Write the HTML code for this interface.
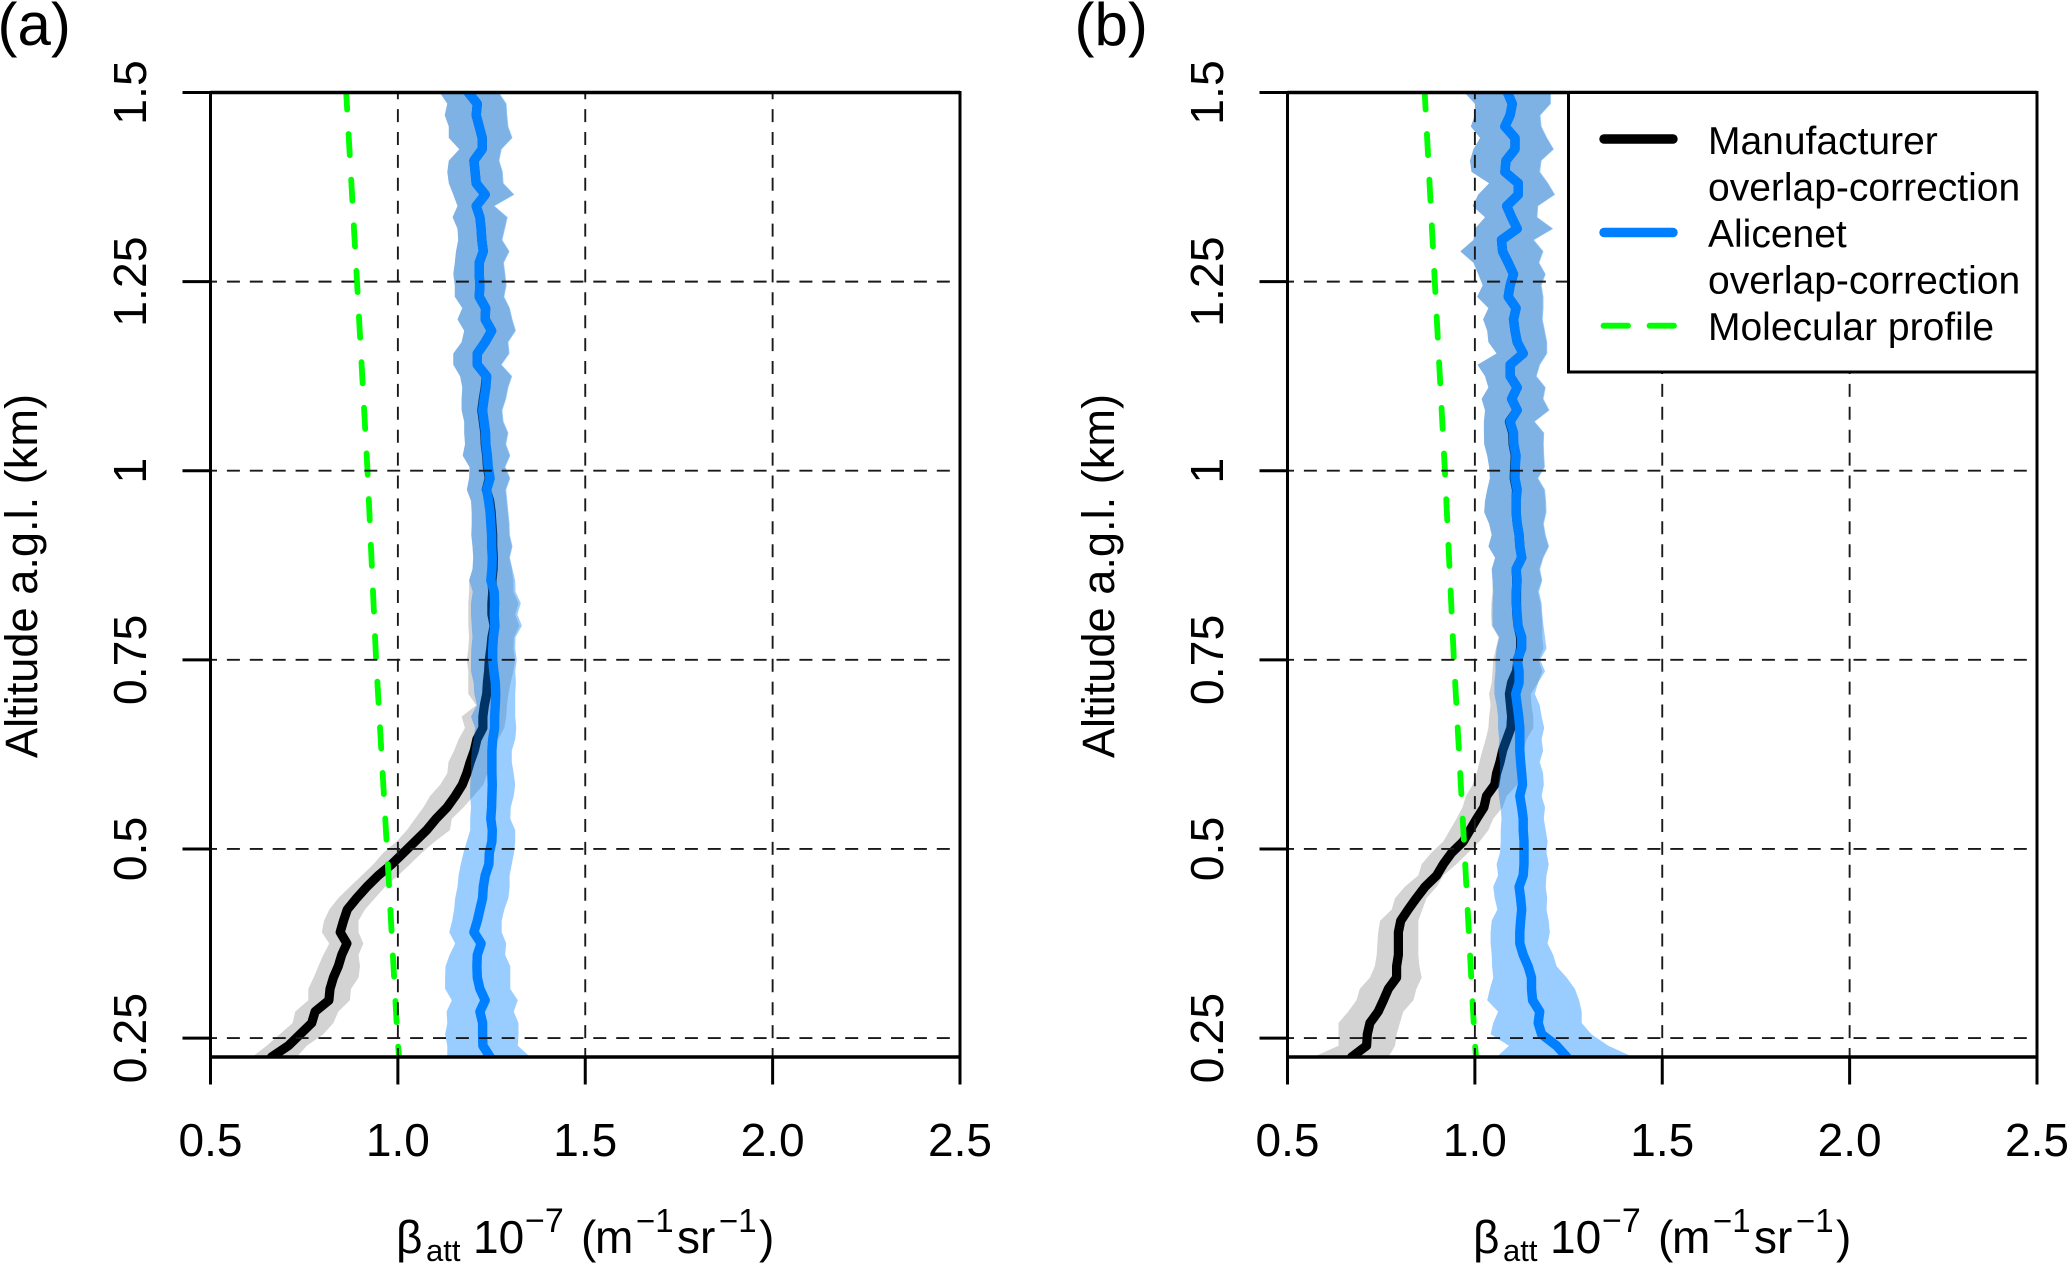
<!DOCTYPE html>
<html lang="en">
<head>
<meta charset="utf-8">
<title>Attenuated backscatter profiles</title>
<style>
html,body{margin:0;padding:0;background:#fff;}
svg{display:block;font-family:"Liberation Sans",sans-serif;}
</style>
</head>
<body>
<svg id="chart" xmlns="http://www.w3.org/2000/svg" width="2067" height="1265" viewBox="0 0 2067 1265">
<rect x="0" y="0" width="2067" height="1265" fill="#ffffff"/>
</svg>
<script>
const altitudeKm = [1.5,1.485,1.47,1.455,1.44,1.425,1.41,1.395,1.38,1.365,1.35,1.335,1.32,1.305,1.29,1.275,1.26,1.245,1.23,1.215,1.2,1.185,1.17,1.155,1.14,1.125,1.11,1.095,1.08,1.065,1.05,1.035,1.02,1.005,0.99,0.975,0.96,0.945,0.93,0.915,0.9,0.885,0.87,0.855,0.84,0.825,0.81,0.795,0.78,0.765,0.75,0.735,0.72,0.705,0.69,0.675,0.66,0.645,0.63,0.615,0.6,0.585,0.57,0.555,0.54,0.525,0.51,0.495,0.48,0.465,0.45,0.435,0.42,0.405,0.39,0.375,0.36,0.345,0.33,0.315,0.3,0.285,0.27,0.255,0.24,0.225];

const panelABlueMean = [1.188,1.212,1.209,1.217,1.225,1.225,1.203,1.206,1.209,1.233,1.209,1.219,1.222,1.224,1.228,1.217,1.217,1.219,1.217,1.234,1.233,1.250,1.233,1.212,1.212,1.237,
1.235,1.230,1.226,1.230,1.234,1.235,1.239,1.241,1.246,1.237,1.242,1.246,1.248,1.250,1.250,1.252,1.251,1.248,1.257,1.258,1.257,1.259,1.255,1.253,1.253,1.256,
1.260,1.261,1.260,1.258,1.258,1.253,1.251,1.251,1.251,1.252,1.251,1.250,1.248,1.252,1.251,1.244,1.243,1.233,1.228,1.226,1.219,1.212,1.203,1.222,1.212,1.211,1.212,1.219,1.233,1.219,1.226,1.226,1.227,1.246];
const panelABlueLow = [1.112,1.132,1.125,1.136,1.136,1.164,1.136,1.132,1.136,1.148,1.159,1.146,1.159,1.161,1.155,1.152,1.148,1.152,1.152,1.172,1.159,1.177,1.170,1.148,1.148,1.166,
1.172,1.170,1.170,1.177,1.177,1.179,1.173,1.191,1.190,1.184,1.195,1.197,1.197,1.196,1.199,1.201,1.199,1.190,1.200,1.195,1.195,1.197,1.199,1.196,1.195,1.195,
1.202,1.204,1.211,1.195,1.206,1.202,1.197,1.195,1.195,1.193,1.193,1.195,1.193,1.193,1.184,1.175,1.168,1.162,1.159,1.153,1.150,1.145,1.137,1.153,1.138,1.127,1.126,1.126,1.144,1.130,1.132,1.126,1.132,1.132];
const panelABlueHigh = [1.270,1.290,1.292,1.295,1.306,1.277,1.271,1.280,1.282,1.311,1.258,1.293,1.286,1.279,1.298,1.283,1.287,1.290,1.284,1.299,1.306,1.315,1.295,1.298,1.277,1.305,
1.295,1.289,1.279,1.282,1.295,1.289,1.300,1.287,1.300,1.289,1.292,1.295,1.298,1.299,1.306,1.299,1.306,1.313,1.314,1.328,1.319,1.331,1.314,1.313,1.317,1.313,
1.315,1.313,1.313,1.313,1.316,1.313,1.304,1.304,1.309,1.313,1.309,1.301,1.300,1.313,1.313,1.310,1.304,1.298,1.298,1.295,1.284,1.277,1.277,1.289,1.286,1.300,1.300,1.300,1.320,1.309,1.322,1.322,1.320,1.353];

const panelABlackMean = [1.188,1.212,1.209,1.217,1.225,1.225,1.203,1.206,1.209,1.233,1.209,1.219,1.222,1.224,1.228,1.217,1.217,1.219,1.217,1.234,1.233,1.250,1.233,1.212,1.212,1.236,
1.233,1.228,1.224,1.228,1.232,1.233,1.237,1.239,1.244,1.236,1.245,1.249,1.251,1.253,1.253,1.255,1.254,1.251,1.253,1.251,1.251,1.257,1.251,1.248,1.244,1.242,
1.239,1.237,1.231,1.227,1.227,1.211,1.204,1.193,1.184,1.172,1.153,1.131,1.102,1.077,1.046,1.015,0.984,0.948,0.917,0.890,0.865,0.855,0.846,0.864,0.850,0.841,0.828,0.819,0.816,0.779,0.770,0.739,0.708,0.663];
const panelABlackLow = [1.112,1.132,1.125,1.136,1.136,1.164,1.136,1.132,1.136,1.148,1.159,1.146,1.159,1.161,1.155,1.152,1.148,1.152,1.152,1.172,1.159,1.177,1.170,1.148,1.148,1.166,
1.172,1.170,1.170,1.177,1.177,1.179,1.173,1.191,1.190,1.184,1.195,1.197,1.197,1.196,1.199,1.201,1.199,1.190,1.190,1.188,1.188,1.188,1.190,1.188,1.184,1.188,
1.188,1.188,1.209,1.170,1.179,1.162,1.150,1.135,1.132,1.113,1.086,1.068,1.046,1.024,0.997,0.961,0.935,0.904,0.872,0.841,0.817,0.803,0.797,0.817,0.801,0.788,0.775,0.761,0.761,0.726,0.719,0.685,0.650,0.611];
const panelABlackHigh = [1.268,1.288,1.290,1.293,1.304,1.275,1.269,1.278,1.280,1.309,1.256,1.291,1.284,1.277,1.296,1.281,1.285,1.288,1.282,1.297,1.304,1.313,1.293,1.296,1.275,1.303,
1.293,1.287,1.277,1.280,1.293,1.287,1.298,1.285,1.298,1.287,1.290,1.293,1.296,1.297,1.304,1.297,1.304,1.308,1.308,1.322,1.313,1.324,1.310,1.308,1.313,1.308,
1.301,1.295,1.291,1.289,1.284,1.268,1.255,1.242,1.239,1.228,1.202,1.175,1.144,1.139,1.099,1.064,1.033,1.001,0.966,0.939,0.912,0.895,0.895,0.908,0.895,0.899,0.895,0.875,0.872,0.841,0.828,0.801,0.757,0.730];

const panelBBlueMean = [1.087,1.100,1.094,1.080,1.107,1.107,1.083,1.080,1.116,1.116,1.085,1.098,1.113,1.071,1.074,1.089,1.103,1.094,1.089,1.110,1.103,1.107,1.113,1.129,1.094,1.094,
1.113,1.098,1.113,1.094,1.103,1.104,1.110,1.108,1.107,1.113,1.110,1.110,1.113,1.118,1.120,1.125,1.110,1.113,1.110,1.110,1.113,1.115,1.125,1.125,1.113,1.118,
1.118,1.109,1.113,1.117,1.120,1.120,1.120,1.122,1.125,1.127,1.120,1.125,1.129,1.129,1.131,1.131,1.131,1.129,1.118,1.122,1.125,1.122,1.120,1.120,1.129,1.142,1.151,1.151,1.154,1.173,1.169,1.178,1.218,1.245];
const panelBBlueLow = [0.972,1.000,1.000,0.989,1.014,0.996,0.987,0.991,1.038,1.009,0.994,1.027,1.000,0.996,0.961,0.996,1.009,1.021,1.006,1.036,1.022,1.033,1.036,1.058,1.007,1.027,
1.036,1.018,1.027,1.024,1.024,1.025,1.033,1.038,1.040,1.033,1.027,1.025,1.038,1.045,1.036,1.054,1.045,1.047,1.049,1.047,1.047,1.047,1.065,1.058,1.055,1.055,
1.052,1.052,1.058,1.062,1.062,1.065,1.063,1.067,1.067,1.062,1.064,1.069,1.071,1.069,1.069,1.067,1.058,1.062,1.049,1.053,1.060,1.045,1.042,1.042,1.045,1.046,1.049,1.040,1.033,1.062,1.049,1.042,1.091,1.058];
const panelBBlueHigh = [1.203,1.203,1.175,1.178,1.193,1.211,1.178,1.174,1.196,1.214,1.169,1.167,1.209,1.158,1.183,1.172,1.189,1.178,1.183,1.183,1.181,1.187,1.193,1.193,1.174,1.165,
1.189,1.183,1.199,1.160,1.185,1.184,1.185,1.187,1.169,1.187,1.190,1.191,1.184,1.189,1.198,1.183,1.174,1.180,1.171,1.178,1.180,1.183,1.187,1.191,1.174,1.187,
1.169,1.160,1.173,1.178,1.185,1.178,1.182,1.173,1.182,1.184,1.178,1.187,1.184,1.189,1.194,1.191,1.197,1.191,1.189,1.193,1.191,1.197,1.200,1.194,1.209,1.218,1.245,1.267,1.278,1.285,1.285,1.311,1.356,1.422];

const panelBBlackMean = [1.087,1.100,1.094,1.080,1.107,1.107,1.083,1.080,1.116,1.116,1.085,1.098,1.113,1.071,1.074,1.089,1.103,1.094,1.089,1.110,1.103,1.107,1.113,1.129,1.094,1.094,
1.113,1.098,1.113,1.092,1.101,1.102,1.108,1.106,1.105,1.111,1.110,1.110,1.113,1.118,1.120,1.125,1.110,1.112,1.111,1.111,1.112,1.115,1.122,1.122,1.115,1.111,
1.098,1.092,1.095,1.098,1.096,1.085,1.074,1.067,1.058,1.053,1.031,1.024,1.005,0.987,0.969,0.938,0.916,0.898,0.867,0.844,0.822,0.802,0.796,0.796,0.796,0.791,0.791,0.769,0.756,0.742,0.720,0.713,0.711,0.671];
const panelBBlackLow = [0.972,1.000,1.000,0.989,1.014,0.996,0.987,0.991,1.038,1.009,0.994,1.027,1.000,0.996,0.961,0.996,1.009,1.021,1.006,1.036,1.022,1.033,1.036,1.058,1.007,1.027,
1.036,1.018,1.027,1.024,1.024,1.025,1.033,1.038,1.040,1.033,1.027,1.025,1.038,1.045,1.036,1.054,1.045,1.047,1.047,1.044,1.043,1.045,1.063,1.056,1.049,1.047,
1.045,1.038,1.042,1.038,1.036,1.029,1.020,1.012,1.005,0.994,0.976,0.967,0.951,0.933,0.916,0.884,0.858,0.849,0.813,0.787,0.778,0.747,0.742,0.740,0.738,0.733,0.720,0.693,0.684,0.662,0.636,0.636,0.636,0.569];
const panelBBlackHigh = [1.201,1.201,1.173,1.176,1.191,1.209,1.176,1.172,1.194,1.212,1.167,1.165,1.207,1.156,1.181,1.170,1.187,1.176,1.181,1.181,1.179,1.185,1.191,1.191,1.172,1.163,
1.187,1.181,1.197,1.158,1.183,1.182,1.183,1.185,1.167,1.185,1.188,1.189,1.182,1.187,1.196,1.181,1.172,1.178,1.168,1.175,1.178,1.180,1.180,1.183,1.170,1.180,
1.169,1.149,1.151,1.156,1.156,1.138,1.129,1.122,1.113,1.113,1.085,1.074,1.049,1.036,1.013,0.982,0.951,0.916,0.898,0.871,0.860,0.849,0.849,0.849,0.849,0.852,0.858,0.844,0.836,0.809,0.800,0.791,0.787,0.769];

const molecularAltitudeKm = [1.5,1.25,1.0,0.75,0.5,0.25,0.225];
const molecularA = [0.862,0.891,0.919,0.942,0.971,0.999,1.003];
const molecularB = [0.866,0.893,0.920,0.944,0.972,0.999,1.003];

const xTickValues = [0.5,1.0,1.5,2.0,2.5];
const xTickLabels = ["0.5","1.0","1.5","2.0","2.5"];
const yTickValues = [1.5,1.25,1.0,0.75,0.5,0.25];
const yTickLabels = ["1.5","1.25","1","0.75","0.5","0.25"];
const xGridValues = [1.0,1.5,2.0];
const yGridValues = [1.25,1.0,0.75,0.5,0.25];

const legendLabels = ["Manufacturer","overlap-correction","Alicenet","overlap-correction","Molecular profile"];

const svg = document.getElementById('chart');
const NS = 'http://www.w3.org/2000/svg';

function make(parent, tag, name, attrs, text) {
  const el = document.createElementNS(NS, tag);
  
  
  for (const k in attrs) el.setAttribute(k, attrs[k]);
  if (text !== undefined) el.textContent = text;
  parent.appendChild(el);
  return el;
}

const TOP = 92.5, BOTTOM = 1057;
const KM_TOP = 1.5, KM_BOTTOM = 0.225;
function yScale(km) { return TOP + (KM_TOP - km) * (BOTTOM - TOP) / (KM_TOP - KM_BOTTOM); }

function drawPanel(cfg) {
  const left = cfg.left, right = cfg.left + 749.5;
  const xScale = v => left + (v - 0.5) * 374.75;
  const prefix = cfg.id;
  const g = make(svg, 'g', prefix + '-chart', {});

  const defs = make(g, 'defs', prefix + '-defs', {});
  const clip = make(defs, 'clipPath', prefix + '-clip', { id: prefix + '-clip' });
  make(clip, 'rect', prefix + '-clip-rect', { x: left, y: TOP, width: right - left, height: BOTTOM - TOP });

  const plot = make(g, 'g', prefix + '-plot-area', { 'clip-path': 'url(#' + prefix + '-clip)' });

  function band(name, lows, highs, fill) {
    const pts = [];
    altitudeKm.forEach((a, i) => pts.push(xScale(highs[i]).toFixed(1) + ',' + yScale(a).toFixed(1)));
    for (let i = altitudeKm.length - 1; i >= 0; i--) pts.push(xScale(lows[i]).toFixed(1) + ',' + yScale(altitudeKm[i]).toFixed(1));
    make(plot, 'polygon', name, { points: pts.join(' '), fill: fill, stroke: 'none' });
  }
  function line(name, values, alts, stroke, width, extra) {
    const pts = values.map((v, i) => xScale(v).toFixed(1) + ',' + yScale(alts[i]).toFixed(1)).join(' ');
    const attrs = { points: pts, fill: 'none', stroke: stroke, 'stroke-width': width, 'stroke-linejoin': 'round', 'stroke-linecap': 'round' };
    for (const k in (extra || {})) attrs[k] = extra[k];
    make(plot, 'polyline', name, attrs);
  }

  band(prefix + '-manufacturer-band', cfg.blackLow, cfg.blackHigh, '#D3D3D3');
  line(prefix + '-manufacturer-line', cfg.blackMean, altitudeKm, '#000000', 9.2);
  band(prefix + '-alicenet-band', cfg.blueLow, cfg.blueHigh, 'rgba(0,127,255,0.4)');
  line(prefix + '-alicenet-line', cfg.blueMean, altitudeKm, '#007FFF', 9.4);
  line(prefix + '-molecular-line', cfg.molecular, molecularAltitudeKm, '#00FF00', 5.8, { 'stroke-dasharray': '21.2 24.5', 'stroke-dashoffset': '4.1' });

  xGridValues.forEach(v => {
    make(plot, 'line', prefix + '-x-gridline', { x1: xScale(v), x2: xScale(v), y1: TOP, y2: BOTTOM, stroke: '#1a1a1a', 'stroke-width': 1.9, 'stroke-dasharray': '13 9.9', 'stroke-dashoffset': '6.3' });
  });
  yGridValues.forEach(v => {
    make(plot, 'line', prefix + '-y-gridline', { x1: left, x2: right, y1: yScale(v), y2: yScale(v), stroke: '#1a1a1a', 'stroke-width': 1.9, 'stroke-dasharray': '13 9.9', 'stroke-dashoffset': '6.5' });
  });

  make(g, 'rect', prefix + '-plot-frame', { x: left, y: TOP, width: right - left, height: BOTTOM - TOP, fill: 'none', stroke: '#000', 'stroke-width': 3 });
  make(g, 'line', prefix + '-bottom-axis', { x1: left, x2: right, y1: BOTTOM, y2: BOTTOM, stroke: '#000', 'stroke-width': 3.4 });
  make(g, 'line', prefix + '-top-axis', { x1: left, x2: right, y1: TOP, y2: TOP, stroke: '#000', 'stroke-width': 3.4 });

  xTickValues.forEach((v, i) => {
    make(g, 'line', prefix + '-x-tick', { x1: xScale(v), x2: xScale(v), y1: BOTTOM, y2: 1084.5, stroke: '#000', 'stroke-width': 3 });
    make(g, 'text', prefix + '-x-tick-label', { x: xScale(v), y: 1156, 'font-size': 46, 'text-anchor': 'middle', fill: '#000' }, xTickLabels[i]);
  });
  yTickValues.forEach((v, i) => {
    make(g, 'line', prefix + '-y-tick', { x1: left - 28, x2: left, y1: yScale(v), y2: yScale(v), stroke: '#000', 'stroke-width': 3 });
    const tx = left - 64.5;
    make(g, 'text', prefix + '-y-tick-label', { x: tx, y: yScale(v), 'font-size': 46.5, 'text-anchor': 'middle', fill: '#000', transform: 'rotate(-90 ' + tx + ' ' + yScale(v) + ')' }, yTickLabels[i]);
  });

  const ty = 576, tb = left - 173.5;
  make(g, 'text', prefix + '-y-axis-title', { x: tb, y: ty, 'font-size': 45.2, 'text-anchor': 'middle', fill: '#000', transform: 'rotate(-90 ' + tb + ' ' + ty + ')' }, 'Altitude a.g.l. (km)');

  const dx = left - 210.5;
  const title = make(g, 'g', prefix + '-x-axis-title', {});
  const parts = [
    ['\u03B2', 396, 1253, 46], ['att', 426, 1261, 31], ['10', 473, 1253, 46], ['\u22127', 525, 1232, 34],
    ['(', 581, 1253, 46], ['m', 595, 1253, 46], ['\u22121', 636, 1232, 33], ['sr', 677, 1253, 46],
    ['\u22121', 719, 1232, 33], [')', 759, 1253, 46]
  ];
  parts.forEach(p => {
    make(title, 'text', prefix + '-x-axis-title-part', { x: p[1] + dx, y: p[2], 'font-size': p[3], fill: '#000' }, p[0]);
  });

  make(g, 'text', prefix + '-panel-label', { x: left - 213, y: 45, 'font-size': 60, fill: '#000' }, cfg.label);
}

drawPanel({
  id: 'panel-a', label: '(a)', left: 210.5,
  blueMean: panelABlueMean, blueLow: panelABlueLow, blueHigh: panelABlueHigh,
  blackMean: panelABlackMean, blackLow: panelABlackLow, blackHigh: panelABlackHigh,
  molecular: molecularA
});
drawPanel({
  id: 'panel-b', label: '(b)', left: 1287.5,
  blueMean: panelBBlueMean, blueLow: panelBBlueLow, blueHigh: panelBBlueHigh,
  blackMean: panelBBlackMean, blackLow: panelBBlackLow, blackHigh: panelBBlackHigh,
  molecular: molecularB
});

const legend = make(svg, 'g', 'legend', {});
make(legend, 'rect', 'legend-box', { x: 1568.5, y: 92.5, width: 468.5, height: 279.5, fill: '#fff', stroke: '#000', 'stroke-width': 3 });
make(legend, 'line', 'legend-key-manufacturer', { x1: 1604, x2: 1673, y1: 139, y2: 139, stroke: '#000', 'stroke-width': 9.4, 'stroke-linecap': 'round' });
make(legend, 'line', 'legend-key-alicenet', { x1: 1604, x2: 1673, y1: 232.5, y2: 232.5, stroke: '#007FFF', 'stroke-width': 9.4, 'stroke-linecap': 'round' });
make(legend, 'line', 'legend-key-molecular', { x1: 1603.5, x2: 1674, y1: 325.7, y2: 325.7, stroke: '#00FF00', 'stroke-width': 5.8, 'stroke-linecap': 'round', 'stroke-dasharray': '24.5 21.5' });
const legendBaselines = [154, 200.5, 247, 293.5, 340];
legendLabels.forEach((t, i) => {
  make(legend, 'text', 'legend-label', { x: 1708, y: legendBaselines[i], 'font-size': 39, fill: '#000' }, t);
});
</script>
</body>
</html>
